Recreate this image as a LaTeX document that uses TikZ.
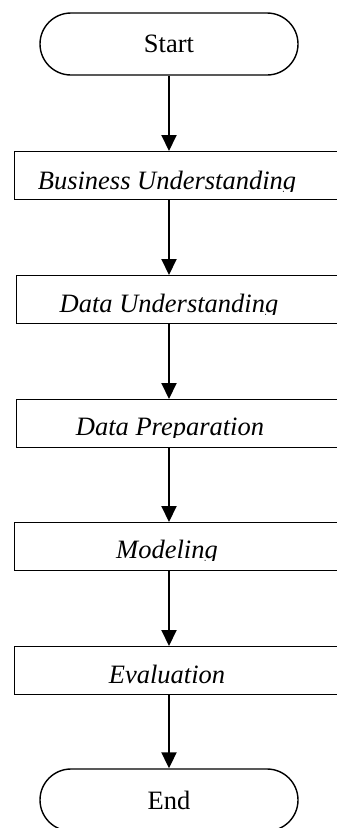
\documentclass[tikz,border=0pt]{standalone}
\usepackage{fontspec}
\setmainfont{Liberation Serif}
\usetikzlibrary{arrows.meta,shapes.misc}
\begin{document}
\begin{tikzpicture}[x=1pt,y=-1pt,
  term/.style={draw,line width=1.4pt,rounded rectangle,minimum width=258pt,
    minimum height=62pt,inner sep=0pt,font=\fontsize{26.5}{30}\selectfont},
  stepbox/.style={draw,line width=1.4pt,rectangle,anchor=north west,inner sep=0pt,
    minimum width=331pt,minimum height=47.5pt},
  lbl/.style={anchor=base,inner sep=0pt,font=\fontsize{26.5}{30}\selectfont\itshape},
  arr/.style={line width=2pt,-{Triangle[width=15pt,length=16pt]}}]
  \useasboundingbox (0,0) rectangle (337,828);
  \clip (0,0) rectangle (337,828);

  % terminators
  \node[term] (start) at (169,44) {Start};
  \node[term] (end) at (169,800) {End};

  % process boxes (running past the right edge)
  \node[stepbox] (b1) at (14,151) {};
  \node[stepbox] (b2) at (16,275) {};
  \node[stepbox] (b3) at (16,399) {};
  \node[stepbox] (b4) at (14,522) {};
  \node[stepbox] (b5) at (14,646) {};

  % box captions, cut off just below the baseline
  \begin{scope}
    \clip (0,151) rectangle (337,191);
    \node[lbl] (t1) at (167,189) {Business Understanding};
  \end{scope}
  \begin{scope}
    \clip (0,275) rectangle (337,314);
    \node[lbl] (t2) at (169,312) {Data Understanding};
  \end{scope}
  \begin{scope}
    \clip (0,399) rectangle (337,437);
    \node[lbl] (t3) at (170,435) {Data Preparation};
  \end{scope}
  \begin{scope}
    \clip (0,522) rectangle (337,560);
    \node[lbl] (t4) at (167,558) {Modeling};
  \end{scope}
  \begin{scope}
    \clip (0,646) rectangle (337,685);
    \node[lbl] (t5) at (167,683) {Evaluation};
  \end{scope}

  % connectors
  \draw[arr] (start.south) -- (start.south |- b1.north);
  \draw[arr] (start.south |- b1.south) -- (start.south |- b2.north);
  \draw[arr] (start.south |- b2.south) -- (start.south |- b3.north);
  \draw[arr] (start.south |- b3.south) -- (start.south |- b4.north);
  \draw[arr] (start.south |- b4.south) -- (start.south |- b5.north);
  \draw[arr] (start.south |- b5.south) -- (end.north);
\end{tikzpicture}
\end{document}
